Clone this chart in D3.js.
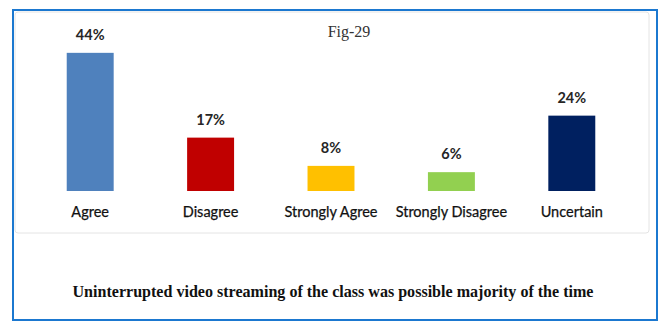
<!DOCTYPE html>
<html>
<head>
<meta charset="utf-8">
<script src="https://cdn.jsdelivr.net/npm/d3@7"></script>
<style>
  html, body { margin: 0; padding: 0; background: #fff; }
  svg { display: block; }
</style>
</head>
<body>
<svg id="chart" width="660" height="323"></svg>
<script>
const categories = ["Agree", "Disagree", "Strongly Agree", "Strongly Disagree", "Uncertain"];
const values = [44, 17, 8, 6, 24];
const colors = ["#4f81bd", "#c00000", "#ffc000", "#92d050", "#002060"];
const figLabel = "Fig-29";
const caption = "Uninterrupted video streaming of the class was possible majority of the time";

const svg = d3.select("#chart");

// outer blue frame
svg.append("rect")
  .attr("x", 13).attr("y", 10).attr("width", 644).attr("height", 310)
  .attr("fill", "#fff").attr("stroke", "#1b78d0").attr("stroke-width", 2);

// inner chart area
svg.append("rect")
  .attr("x", 15).attr("y", 12).attr("width", 634).attr("height", 221)
  .attr("rx", 3)
  .attr("fill", "#fff").attr("stroke", "#e4e4e4").attr("stroke-width", 1);

const x = d3.scaleBand().domain(categories).range([30, 632])
  .paddingInner(0.61).paddingOuter(0.305);
const y = d3.scaleLinear().domain([0, 50]).range([191, 34]);

const g = svg.append("g");
g.selectAll("rect.bar").data(values).join("rect")
  .attr("class", "bar")
  .attr("x", (d, i) => x(categories[i]))
  .attr("width", x.bandwidth())
  .attr("y", d => y(d))
  .attr("height", d => y(0) - y(d))
  .attr("fill", (d, i) => colors[i]);

g.selectAll("text.val").data(values).join("text")
  .attr("class", "val")
  .attr("x", (d, i) => x(categories[i]) + x.bandwidth() / 2)
  .attr("y", d => y(d) - 13)
  .attr("text-anchor", "middle")
  .attr("font-family", "Lato, 'Open Sans', sans-serif")
  .attr("font-weight", "bold")
  .attr("font-size", 14.5)
  .attr("fill", "#262626")
  .text(d => d + "%");

// category axis labels
const xAxis = d3.axisBottom(x).tickSize(0).tickPadding(0);
const ax = svg.append("g").attr("transform", "translate(0,207)").call(xAxis);
ax.select(".domain").remove();
ax.selectAll("text")
  .attr("font-family", "Lato, 'Open Sans', sans-serif")
  .attr("font-size", 14.5)
  .attr("fill", "#111")
  .attr("stroke", "#111")
  .attr("stroke-width", 0.25);

svg.append("text")
  .attr("x", 349).attr("y", 37)
  .attr("text-anchor", "middle")
  .attr("font-family", "'Liberation Serif', 'Times New Roman', serif")
  .attr("font-size", 16)
  .attr("fill", "#333")
  .text(figLabel);

svg.append("text")
  .attr("x", 333).attr("y", 297)
  .attr("text-anchor", "middle")
  .attr("font-family", "'Liberation Serif', 'Times New Roman', serif")
  .attr("font-weight", "bold")
  .attr("font-size", 16)
  .attr("textLength", 521)
  .attr("lengthAdjust", "spacingAndGlyphs")
  .attr("fill", "#111")
  .text(caption);
</script>
</body>
</html>
